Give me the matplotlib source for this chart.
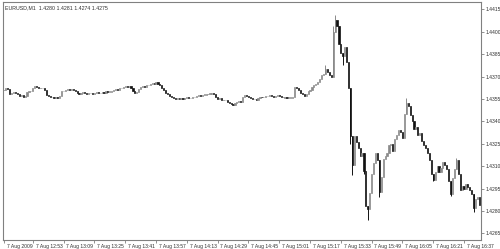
import matplotlib
matplotlib.use("Agg")
import matplotlib.pyplot as plt

plt.rcParams["font.family"] = ["Liberation Sans", "DejaVu Sans"]

# EURUSD M1, 7 Aug 2009; closes in pips above 1.4300, one per minute bar
close_pips = [
    61, 62, 61.5, 58, 59, 59.5, 59, 58, 57, 57.5,
    56.5, 57, 59.5, 60, 60.5, 62, 63.5, 63, 62.5, 62,
    62.5, 61, 57.5, 57, 56, 56.5, 55.5, 56, 55.5, 57,
    60, 60.5, 61, 61.5, 61, 61.5, 61, 60.5, 59, 58.5,
    59, 59.5, 59, 58.5, 59, 59, 58.5, 59, 59.5, 59,
    59, 59.5, 59, 60, 59.5, 60, 60, 61, 61.5, 61,
    62, 62.5, 63, 63.5, 63, 63.5, 62, 60, 59, 59.5,
    61.5, 63, 63.5, 63, 64, 64.5, 65, 65.5, 65, 66,
    65, 64, 62, 61, 59, 58, 57, 56, 55.5, 55,
    55.5, 55, 55.5, 55, 55.5, 56, 55.5, 55.5, 56, 56.5,
    57, 57.5, 57, 57.5, 58, 58, 58.5, 58.5, 59, 58,
    56, 55, 55.5, 54.5, 54, 54.5, 53, 52, 51.5, 51,
    52, 53, 53.5, 53, 56, 57.5, 57, 56.5, 55.5, 55,
    55, 54.5, 55.5, 56.5, 56, 56.5, 57, 57, 57.5, 57,
    56.5, 57, 57.5, 57, 56.5, 56, 56, 55.5, 56, 56,
    56, 63, 62, 61, 59, 58, 57, 58, 60, 61,
    63, 64, 65, 66, 68, 71, 72, 75, 73, 71,
    70, 100, 108, 104, 92, 86, 84, 90, 80, 62,
    30, 11, 30, 26, 22, 17, 19, 7, -17, -19,
    -8, 5, 12, 19, 14, -7, 3, 15, 17, 19,
    24, 25, 20, 28, 31, 34, 33, 29, 45, 52,
    50, 44, 40, 35, 36, 31, 32, 27, 24, 22,
    19, 14, 5, 1, 6, 10, 6, 9, 13, 11,
    8, 0, -9, 2, 8, 14, 5, -6, -3, -5,
    -2, -4, -6, -9, -18, -12, -11, -16,
]
first_open = 61
# wick extremes (pips) for bars whose shadows stand out
high_pips = {167: 78, 171: 104, 172: 111, 180: 62, 209: 55.6, 235: 15.4}
low_pips = {176: 78, 180: 25, 181: 4, 187: 5, 189: -26, 195: -10.7,
            223: 0, 232: -10, 244: -21}

title_text = "EURUSD,M1  1.4280 1.4281 1.4274 1.4275"
time_labels = ["7 Aug 2009", "7 Aug 12:53", "7 Aug 13:09", "7 Aug 13:25",
               "7 Aug 13:41", "7 Aug 13:57", "7 Aug 14:13", "7 Aug 14:29",
               "7 Aug 14:45", "7 Aug 15:01", "7 Aug 15:17", "7 Aug 15:33",
               "7 Aug 15:49", "7 Aug 16:05", "7 Aug 16:21", "7 Aug 16:37"]
time_bars = [0, 15, 31, 47, 63, 79, 95, 111, 127, 143, 159, 175, 191, 207, 223, 239]
price_ticks = [1.4265, 1.4280, 1.4295, 1.4310, 1.4325, 1.4340,
               1.4355, 1.4370, 1.4385, 1.4400, 1.4415]

base = 1.4300
closes = [base + c / 10000 for c in close_pips]
opens = [base + first_open / 10000] + closes[:-1]

fig = plt.figure(figsize=(5.0, 2.49), dpi=100)
ax = fig.add_axes([0.006, 0.036, 0.956, 0.956])

bull_col = "#8a8a8a"
bear_col = "#111111"
min_h = 0.00003

for i, (o, c) in enumerate(zip(opens, closes)):
    col = bull_col if c >= o else bear_col
    hi = base + high_pips[i] / 10000 if i in high_pips else max(o, c)
    lo = base + low_pips[i] / 10000 if i in low_pips else min(o, c)
    if hi > max(o, c) or lo < min(o, c):
        ax.vlines(i, lo, hi, color=col, linewidth=0.7)
    h = abs(c - o)
    ax.bar(i, max(h, min_h), bottom=min(o, c) if h > min_h else c - min_h / 2,
           width=0.6, color=col, edgecolor=col, linewidth=0.5)

ax.set_xlim(-0.5, 247.8)
ax.set_ylim(1.42605, 1.44199)

for s in ax.spines.values():
    s.set_color("#808080")
    s.set_linewidth(0.8)

ax.yaxis.tick_right()
ax.set_yticks(price_ticks)
ax.set_yticklabels([f"{p:.4f}" for p in price_ticks])
ax.tick_params(axis="y", length=2, width=0.6, color="#808080",
               labelsize=3.6, labelcolor="#303030", pad=1)

ax.set_xticks(time_bars)
ax.set_xticklabels([])
ax.tick_params(axis="x", length=2.5, width=0.6, color="#808080", direction="out")
for b, lab in zip(time_bars, time_labels):
    ax.annotate(lab, xy=(b, 0), xycoords=("data", "axes fraction"),
                xytext=(2, -5), textcoords="offset points",
                ha="left", va="center", fontsize=3.6, color="#303030",
                annotation_clip=False)

ax.text(0.004, 0.985, title_text, transform=ax.transAxes, ha="left", va="top",
        fontsize=3.8, color="#303030")

fig.savefig("out.png", dpi=100)
